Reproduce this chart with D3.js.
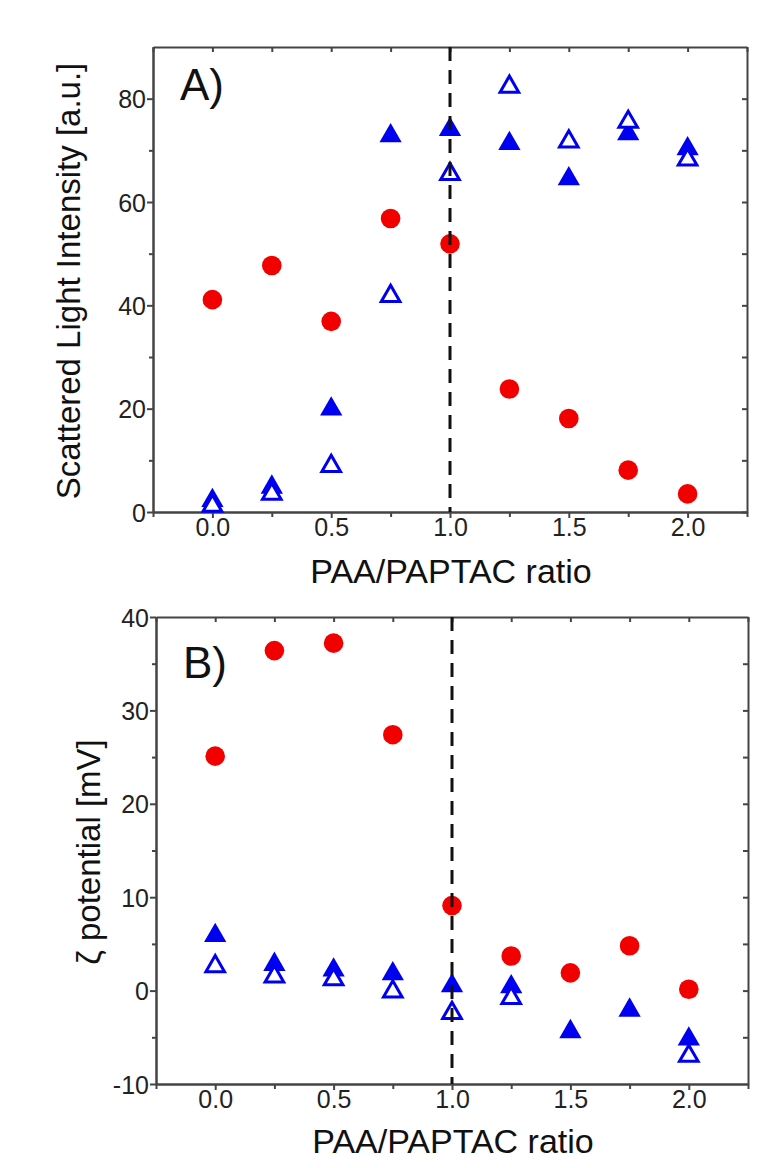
<!DOCTYPE html>
<html>
<head>
<meta charset="utf-8">
<script src="https://cdn.jsdelivr.net/npm/d3@7"></script>
<style>
  body { margin: 0; background: #fff; }
  svg { display: block; font-family: "Liberation Sans", Arial, sans-serif; }
  .tick text { fill: #222; font-size: 25px; font-family: "Liberation Sans", Arial, sans-serif; }
  .axis path, .axis line { stroke: #444; stroke-width: 2; }
  .title { fill: #111; }
</style>
</head>
<body>
<div id="chart"></div>
<script>
// data
const ratio = [0, 0.25, 0.5, 0.75, 1.0, 1.25, 1.5, 1.75, 2.0];

// panel A - scattered light intensity
const intensityCircle = [41.1, 47.7, 36.9, 56.8, 51.9, 23.8, 18.1, 8.1, 3.5];
const intensityFilled = [2.2, 4.8, 19.9, 72.8, 74.0, 71.3, 64.5, 73.2, 70.3];
const intensityOpen   = [1.2, 3.5, 8.9, 41.8, 65.4, 82.3, 71.7, 75.5, 68.2];

// panel B - zeta potential
const zetaCircle = [25.1, 36.4, 37.2, 27.4, 9.1, 3.7, 1.9, 4.8, 0.15];
const zetaFilled = [5.9, 2.8, 2.2, 1.8, 0.5, 0.4, -4.4, -2.1, -5.2];
const zetaOpen   = [2.6, 1.5, 1.2, -0.1, -2.4, -0.8, null, null, -7.0];

const xMajor = [0, 0.5, 1.0, 1.5, 2.0];
const xMinor = [-0.25, 0.25, 0.75, 1.25, 1.75, 2.25];
const xAll = [-0.25, 0, 0.25, 0.5, 0.75, 1.0, 1.25, 1.5, 1.75, 2.0, 2.25];

const W = 774, H = 1168;
const svg = d3.select("#chart").append("svg")
    .attr("width", W)
    .attr("height", H);

function drawPanel(p) {
    const x = d3.scaleLinear().domain([-0.25, 2.25]).range([p.left, p.right]);
    const y = d3.scaleLinear().domain(p.yDomain).range([p.bottom, p.top]);
    const g = svg.append("g");

    // bottom axis, ticks outward
    g.append("g").attr("class", "axis")
        .attr("transform", `translate(0,${p.bottom})`)
        .call(d3.axisBottom(x).tickValues(xMinor).tickSize(5).tickFormat("").tickSizeOuter(0));
    g.append("g").attr("class", "axis")
        .attr("transform", `translate(0,${p.bottom})`)
        .call(d3.axisBottom(x).tickValues(xMajor).tickSize(6).tickPadding(9)
            .tickFormat(d => d.toFixed(1)).tickSizeOuter(0));

    // top axis, ticks inward
    g.append("g").attr("class", "axis")
        .attr("transform", `translate(0,${p.top})`)
        .call(d3.axisTop(x).tickValues(xAll).tickSize(-5).tickFormat("").tickSizeOuter(0));

    // left axis, ticks outward
    g.append("g").attr("class", "axis")
        .attr("transform", `translate(${p.left},0)`)
        .call(d3.axisLeft(y).tickValues(p.yMinor).tickSize(4).tickFormat("").tickSizeOuter(0));
    g.append("g").attr("class", "axis")
        .attr("transform", `translate(${p.left},0)`)
        .call(d3.axisLeft(y).tickValues(p.yMajor).tickSize(6).tickPadding(1)
            .tickFormat(d => String(d)).tickSizeOuter(0));

    // right axis, ticks inward
    g.append("g").attr("class", "axis")
        .attr("transform", `translate(${p.right},0)`)
        .call(d3.axisRight(y).tickValues(p.yRight).tickSize(-5).tickFormat("").tickSizeOuter(0));

    g.selectAll(".tick text").attr("dy", null).attr("dominant-baseline", "central");

    // markers
    const pts = (vals) => ratio.map((r, i) => ({ r: r, v: vals[i] })).filter(d => d.v !== null);

    g.selectAll("circle.red")
        .data(pts(p.circle))
        .enter().append("circle")
        .attr("class", "red")
        .attr("cx", d => x(d.r))
        .attr("cy", d => y(d.v))
        .attr("r", 9.8)
        .attr("fill", "#f20000");

    g.selectAll("path.filled")
        .data(pts(p.filled))
        .enter().append("path")
        .attr("class", "filled")
        .attr("d", d3.symbol().type(d3.symbolTriangle).size(215))
        .attr("transform", d => `translate(${x(d.r)},${y(d.v)})`)
        .attr("fill", "#0000f0");

    g.selectAll("path.open")
        .data(pts(p.open))
        .enter().append("path")
        .attr("class", "open")
        .attr("d", d3.symbol().type(d3.symbolTriangle).size(150))
        .attr("transform", d => `translate(${x(d.r)},${y(d.v)})`)
        .attr("fill", "#fff")
        .attr("stroke", "#0000f0")
        .attr("stroke-width", 3);

    // dashed line at ratio 1.0
    g.append("line")
        .attr("x1", x(1)).attr("x2", x(1))
        .attr("y1", p.top).attr("y2", p.bottom)
        .attr("stroke", "#111")
        .attr("stroke-width", 3)
        .attr("stroke-dasharray", "14,9");

    // panel letter
    g.append("text")
        .attr("class", "title")
        .attr("x", p.left + 27)
        .attr("y", p.top + p.letterDy)
        .attr("font-size", 44)
        .text(p.letter);

    // x label
    g.append("text")
        .attr("class", "title")
        .attr("x", (p.left + p.right) / 2 + 1)
        .attr("y", p.xLabelY)
        .attr("text-anchor", "middle")
        .attr("font-size", 34)
        .text("PAA/PAPTAC ratio");

    // y label
    g.append("text")
        .attr("class", "title")
        .attr("transform", `translate(${p.yLabelX},${p.yLabelY}) rotate(-90)`)
        .attr("text-anchor", "middle")
        .attr("font-size", 33)
        .text(p.yLabel);
}

drawPanel({
    left: 153, right: 747, top: 47, bottom: 512,
    yDomain: [0, 90],
    yMajor: [0, 20, 40, 60, 80],
    yMinor: [10, 30, 50, 70],
    yRight: [0, 10, 20, 30, 40, 50, 60, 70, 80],
    circle: intensityCircle, filled: intensityFilled, open: intensityOpen,
    letter: "A)", letterDy: 53,
    xLabelY: 583,
    yLabel: "Scattered Light Intensity [a.u.]", yLabelX: 80, yLabelY: 281
});

drawPanel({
    left: 156, right: 748, top: 617, bottom: 1084,
    yDomain: [-10, 40],
    yMajor: [-10, 0, 10, 20, 30, 40],
    yMinor: [-5, 5, 15, 25, 35],
    yRight: [-5, 0, 5, 10, 15, 20, 25, 30, 35],
    circle: zetaCircle, filled: zetaFilled, open: zetaOpen,
    letter: "B)", letterDy: 61,
    xLabelY: 1153,
    yLabel: "ζ potential [mV]", yLabelX: 100, yLabelY: 852
});
</script>
</body>
</html>
